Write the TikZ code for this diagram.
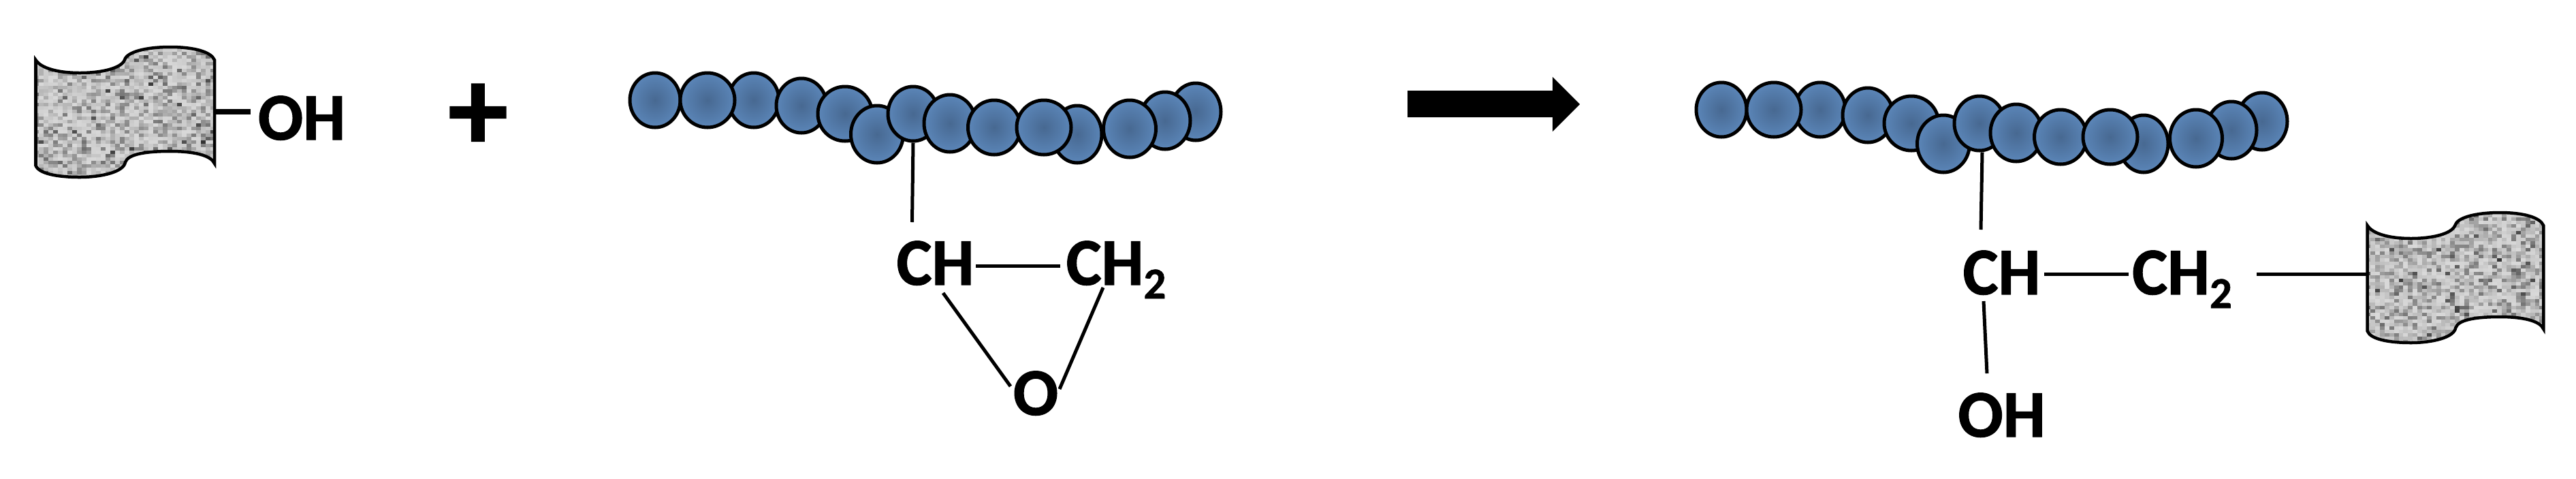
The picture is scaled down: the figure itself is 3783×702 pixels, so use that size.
\documentclass[tikz,border=0pt]{standalone}
\usepackage{fontspec}
\setmainfont[BoldFeatures={FakeBold=1.2}]{Carlito}
\usetikzlibrary{shapes.geometric}
\pgfdeclareradialshading{beadshade}{\pgfpoint{0bp}{0bp}}{rgb(0bp)=(0.28,0.41,0.57); rgb(20bp)=(0.34,0.50,0.69); rgb(40bp)=(0.43,0.61,0.83); rgb(50bp)=(0.43,0.61,0.83)}
\newcommand{\slabpath}{(52.5,88) .. controls (60,100) and (85,107) .. (117,107) .. controls (150,107) and (178,100) .. (183,88) .. controls (186,76) and (215,69) .. (250,69) .. controls (285,69) and (310,76) .. (315,88) -- (315,240) .. controls (310,228) and (285,222) .. (250,222) .. controls (215,222) and (188,226) .. (184,238) .. controls (182,252) and (150,260) .. (117,260) .. controls (85,260) and (57,255) .. (52.5,243) -- cycle}
\tikzset{
  bead/.style={ellipse, draw=black, line width=0.05cm, inner sep=0pt, shade, shading=beadshade},
  chem/.style={anchor=base, inner sep=0pt, font=\fontsize{27.9}{30}\selectfont\bfseries},
  bond/.style={line width=0.05cm},
  slab/.style={line width=0.045cm, miter limit=20}
}
\newcommand{\subtwo}{\raisebox{-5.7pt}{\fontsize{18.4}{20}\selectfont 2}}
\begin{document}
\begin{tikzpicture}[x=0.01cm, y=-0.01cm]
    \useasboundingbox (0,0) rectangle (3783,702);
    \pgfmathsetseed{7}

    % Slabs
    \foreach \sx/\sy/\sc in {0/0/1, 3425/243/0.985} {
        \begin{scope}[shift={(\sx,\sy)}, xscale=\sc]
            \begin{scope}
                \clip \slabpath;
                \fill[black!30] (50,66) rectangle (318,264);
                \foreach \i in {0,...,38} {
                    \foreach \j in {0,...,40} {
                        \pgfmathsetmacro{\lvl}{min(80,15+45*rnd*rnd+28*(rnd>0.9))}
                        \fill[black!\lvl] (50+7*\i,66+5*\j) rectangle +(7.2,5.2);
                    }
                }
            \end{scope}
            \draw[slab] \slabpath;
        \end{scope}
    }
    \coordinate (lslab) at (315,164);
    \coordinate (rslab) at (3477,402);

    % Chains
    \foreach \pre/\dx/\dy in {a/0/0, b/1566/14} {
        \foreach \n/\x/\y/\w/\h in {1/962/147/74/80, 3/1107/147/74/80, 2/1039/147/80/80,
            4/1177/155/74/80, 5/1241/167/80/80, 6/1288/197/77/84, 7/1341/167/74/80,
            8/1395/181/76/84, 9/1460/187/77/80, 10/1582/197/72/84, 11/1533/187/80/80,
            12/1756/164/74/84, 13/1711/177/74/84, 14/1659/189/77/84} {
            \node[bead, minimum width=\w*0.01cm, minimum height=\h*0.01cm] (\pre\n) at (\x+\dx,\y+\dy) {};
        }
    }

    % Left side
    \node[chem] (loh) at (443,205) {OH};
    \node[chem, font=\fontsize{50}{50}\selectfont\bfseries, anchor=center] (plus) at (702,172) {+};
    \draw[line width=0.087cm] (lslab) -- ([shift={(-75,-41)}]loh.base);

    % Epoxide
    \node[chem] (ach) at (1373.5,418) {CH};
    \node[chem] (ach2) at (1639,418) {CH\subtwo};
    \node[chem] (ao) at (1521,609) {O};
    \draw[bond] (a7.south) -- ([shift={(-34,-92)}]ach.base);
    \draw[bond] ([shift={(59.5,-28)}]ach.base) -- ([shift={(-82,-28)}]ach2.base);
    \draw[bond] ([shift={(11.5,12)}]ach.base) -- ([shift={(-37,-42)}]ao.base);
    \draw[bond] ([shift={(-19,4)}]ach2.base) -- ([shift={(35,-38)}]ao.base);

    % Arrow
    \fill (2067,133) -- (2280,133) -- (2280,113) -- (2320,153) -- (2280,193) -- (2280,172) -- (2067,172) -- cycle;

    % Product
    \node[chem] (rch) at (2939.5,432) {CH};
    \node[chem] (rch2) at (3204.5,432) {CH\subtwo};
    \node[chem] (roh) at (2939.5,641) {OH};
    \draw[bond] ([shift={(4,0)}]b7.south) -- ([shift={(-30.5,-95)}]rch.base);
    \draw[bond] ([shift={(62.5,-30)}]rch.base) -- ([shift={(-78.5,-30)}]rch2.base);
    \draw[bond] ([shift={(-26.5,10)}]rch.base) -- ([shift={(-21.5,-93)}]roh.base);
    \draw[bond] ([shift={(109.5,-30)}]rch2.base) -- (rslab);
\end{tikzpicture}
\end{document}
